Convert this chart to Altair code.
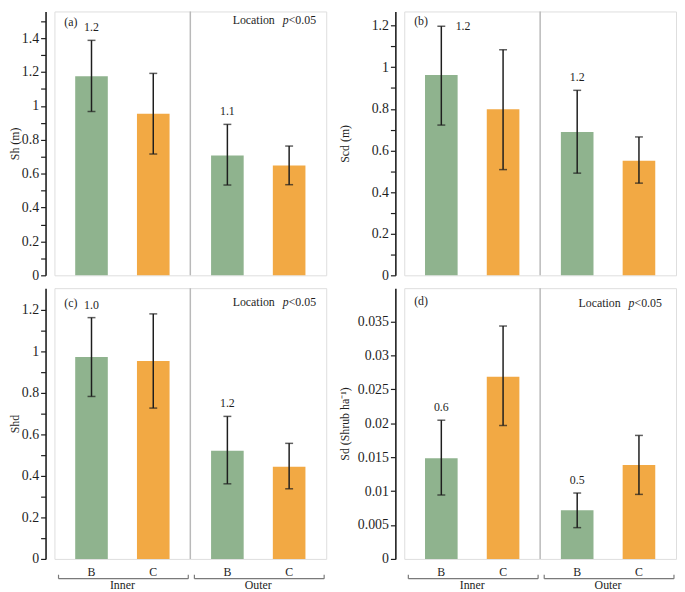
import altair as alt
import pandas as pd

SERIF = "Liberation Serif"
GREEN = "#8fb38e"
ORANGE = "#f2a944"
INK = "#1e1e1e"

# ---------------- data ----------------
location = ["Inner", "Inner", "Outer", "Outer"]
treatment = ["B", "C", "B", "C"]

sh_mean = [1.175, 0.953, 0.708, 0.648]
sh_low = [0.967, 0.716, 0.533, 0.535]
sh_high = [1.387, 1.192, 0.891, 0.763]
sh_sig = ["1.2", "", "1.1", ""]
sh_side = ["top", "", "top", ""]

scd_mean = [0.963, 0.798, 0.689, 0.551]
scd_low = [0.722, 0.508, 0.491, 0.443]
scd_high = [1.197, 1.084, 0.889, 0.665]
scd_sig = ["1.2", "", "1.2", ""]
scd_side = ["right", "", "top", ""]

shd_mean = [0.973, 0.954, 0.521, 0.444]
shd_low = [0.783, 0.727, 0.362, 0.338]
shd_high = [1.163, 1.181, 0.687, 0.557]
shd_sig = ["1.0", "", "1.2", ""]
shd_side = ["top", "", "top", ""]

sd_mean = [0.01485, 0.02684, 0.00718, 0.01383]
sd_low = [0.00942, 0.01966, 0.00461, 0.00951]
sd_high = [0.02044, 0.03432, 0.00971, 0.0182]
sd_sig = ["0.6", "", "0.5", ""]
sd_side = ["top", "", "top", ""]

ticks_a = [0, 0.1, 0.2, 0.3, 0.4, 0.5, 0.6, 0.7, 0.8, 0.9, 1.0, 1.1, 1.2, 1.3, 1.4, 1.5]
ticks_b = [0, 0.1, 0.2, 0.3, 0.4, 0.5, 0.6, 0.7, 0.8, 0.9, 1.0, 1.1, 1.2]
ticks_c = [0, 0.1, 0.2, 0.3, 0.4, 0.5, 0.6, 0.7, 0.8, 0.9, 1.0, 1.1, 1.2]
ticks_d = [0, 0.005, 0.01, 0.015, 0.02, 0.025, 0.03, 0.035]

W = 275
H_TOP = 267
H_BOT = 274


def panel(mean, low, high, sig, side, ytitle, ymax, ticks, label_step,
          letter, show_loc, bottom, h, title_x, letter_y, loc_y, loc_right):
    df = pd.DataFrame({"location": location, "treatment": treatment,
                       "mean": mean, "low": low, "high": high,
                       "sig": sig, "side": side})
    x_scale = alt.Scale(domain=["Inner", "Outer"], paddingInner=0, paddingOuter=0)
    if bottom:
        x_axis = alt.Axis(title=None, domain=False, ticks=False, tickSize=0,
                          labelPadding=21, labelFont=SERIF, labelFontSize=12,
                          labelColor=INK, labelAngle=0)
    else:
        x_axis = None

    def X(**kw):
        return alt.X("location:N", scale=x_scale, axis=x_axis, title=None, **kw)

    xo = alt.XOffset("treatment:N",
                     scale=alt.Scale(domain=["B", "C"], paddingInner=0.472, paddingOuter=0.336))
    y_scale = alt.Scale(domain=[0, ymax], nice=False, zero=True)
    label_expr = ("abs(datum.value/%s - round(datum.value/%s)) < 1e-6 ? format(datum.value, '~g') : ''"
                  % (label_step, label_step))
    y_axis = alt.Axis(title=ytitle, values=ticks, labelExpr=label_expr, offset=9,
                      grid=False, domainColor=INK, domainWidth=1.6, tickColor=INK,
                      tickWidth=1.2, tickSize=5, labelPadding=2, labelFont=SERIF,
                      labelFontSize=14, labelColor=INK, titleFont=SERIF,
                      titleFontSize=12, titleFontWeight="normal", titleColor=INK,
                      titleX=title_x, titleBaseline="middle")

    def Y(field):
        return alt.Y(field, scale=y_scale, axis=y_axis, title=ytitle)

    base = alt.Chart(df)
    layers = []
    divider = alt.Chart(pd.DataFrame({"location": ["Outer"]})).mark_rule(
        color="#b9b9b9", strokeWidth=1.5).encode(
        x=X(bandPosition=0), y=alt.value(0), y2=alt.value(h))
    bars = base.mark_bar().encode(
        x=X(), xOffset=xo, y=Y("mean:Q"),
        color=alt.Color("treatment:N", scale=alt.Scale(domain=["B", "C"], range=[GREEN, ORANGE]),
                        legend=None))
    err = base.mark_rule(color=INK, strokeWidth=1.5).encode(
        x=X(), xOffset=xo, y=Y("low:Q"), y2=alt.Y2("high:Q"))
    cap_lo = base.mark_tick(color=INK, size=8, thickness=1.5).encode(
        x=X(), xOffset=xo, y=Y("low:Q"))
    cap_hi = base.mark_tick(color=INK, size=8, thickness=1.5).encode(
        x=X(), xOffset=xo, y=Y("high:Q"))
    sig_top = base.transform_filter("datum.side == 'top'").mark_text(
        font=SERIF, fontSize=12, color=INK, dy=-13, baseline="middle").encode(
        x=X(), xOffset=xo, y=Y("high:Q"), text="sig:N")
    sig_right = base.transform_filter("datum.side == 'right'").mark_text(
        font=SERIF, fontSize=12, color=INK, dx=22, baseline="middle").encode(
        x=X(), xOffset=xo, y=Y("high:Q"), text="sig:N")
    layers += [divider, bars, err, cap_lo, cap_hi, sig_top, sig_right]

    letter_t = alt.Chart(pd.DataFrame({"t": [letter]})).mark_text(
        font=SERIF, fontSize=12, color=INK, align="left", baseline="middle").encode(
        text="t:N", x=alt.value(10), y=alt.value(letter_y))
    layers.append(letter_t)

    if show_loc:
        t1 = alt.Chart(pd.DataFrame({"t": ["Location"]})).mark_text(
            font=SERIF, fontSize=12, color=INK, align="right", baseline="middle").encode(
            text="t:N", x=alt.value(loc_right - 42), y=alt.value(loc_y))
        t2 = alt.Chart(pd.DataFrame({"t": ["p"]})).mark_text(
            font=SERIF, fontSize=12, color=INK, align="right", baseline="middle",
            fontStyle="italic").encode(
            text="t:N", x=alt.value(loc_right - 28), y=alt.value(loc_y))
        t3 = alt.Chart(pd.DataFrame({"t": ["<0.05"]})).mark_text(
            font=SERIF, fontSize=12, color=INK, align="left", baseline="middle").encode(
            text="t:N", x=alt.value(loc_right - 28), y=alt.value(loc_y))
        layers += [t1, t2, t3]

    if bottom:
        cat = base.mark_text(font=SERIF, fontSize=12, color=INK, baseline="middle").encode(
            x=X(), xOffset=xo, y=alt.value(h + 13), text="treatment:N")
        bdf = pd.DataFrame({"location": ["Inner", "Outer"]})
        bracket = alt.Chart(bdf).mark_rule(color="#7a7a7a", strokeWidth=1.2).encode(
            x=X(bandPosition=0.03), x2=alt.X2("location:N", bandPosition=0.985),
            y=alt.value(h + 20))
        end_l = alt.Chart(bdf).mark_rule(color="#7a7a7a", strokeWidth=1.2).encode(
            x=X(bandPosition=0.03), y=alt.value(h + 16), y2=alt.value(h + 20))
        end_r = alt.Chart(bdf).mark_rule(color="#7a7a7a", strokeWidth=1.2).encode(
            x=X(bandPosition=0.985), y=alt.value(h + 16), y2=alt.value(h + 20))
        layers += [cat, bracket, end_l, end_r]

    return alt.layer(*layers).properties(width=W, height=h)


pa = panel(sh_mean, sh_low, sh_high, sh_sig, sh_side, "Sh (m)", 1.5575, ticks_a, 0.2,
           "(a)", True, False, H_TOP, -31, 11, 9, 265)
pb = panel(scd_mean, scd_low, scd_high, scd_sig, scd_side, "Scd (m)", 1.268, ticks_b, 0.2,
           "(b)", False, False, H_TOP, -51, 10, 9, 265)
pc = panel(shd_mean, shd_low, shd_high, shd_sig, shd_side, "Shd", 1.305, ticks_c, 0.2,
           "(c)", True, True, H_BOT, -31, 15, 14, 265)
pd_ = panel(sd_mean, sd_low, sd_high, sd_sig, sd_side, "Sd (Shrub ha\u207b\u00b9)", 0.0399, ticks_d, 0.005,
            "(d)", True, True, H_BOT, -51, 13, 15, 261)

chart = alt.concat(pa, pb, pc, pd_, columns=2, spacing={"row": 3, "column": 11}).properties(
    padding={"top": -2, "left": 0, "right": 0, "bottom": 0}
).configure_view(stroke="#bdbdbd", strokeWidth=1.5).configure(background="white")

chart.save("out.html", embed_options={"renderer": "svg", "actions": False})
